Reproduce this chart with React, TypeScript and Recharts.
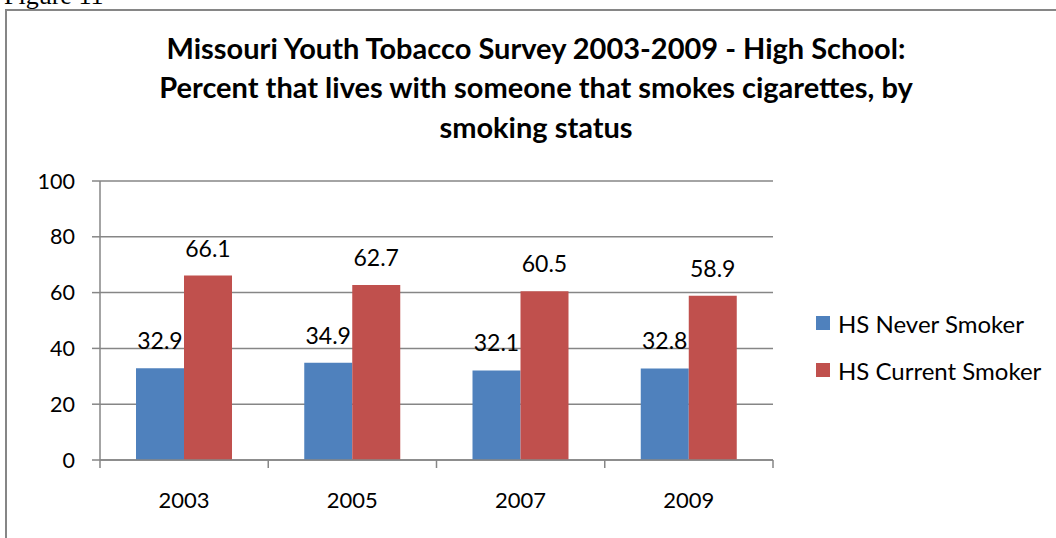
import React from 'react';
import { BarChart, Bar, XAxis, YAxis, CartesianGrid, LabelList, Legend } from 'recharts';

const years = ['2003', '2005', '2007', '2009'];
const neverSmoker = [32.9, 34.9, 32.1, 32.8];
const currentSmoker = [66.1, 62.7, 60.5, 58.9];
const yTicks = [0, 20, 40, 60, 80, 100];
const titleLines = [
  'Missouri Youth Tobacco Survey 2003-2009 - High School:',
  'Percent that lives with someone that smokes cigarettes, by',
  'smoking status',
];
const seriesNames = ['HS Never Smoker', 'HS Current Smoker'];
const colors = ['#4F81BD', '#C0504D'];

const data = years.map((y, i) => ({ year: y, never: neverSmoker[i], current: currentSmoker[i] }));

const FONT = 'Lato, "Noto Sans", sans-serif';
const AXIS = '#868686';

const XTick = (props: any) => {
  const { x, payload, index, visibleTicksCount } = props;
  const half = payload && payload.offset ? payload.offset : 84;
  const axisY = 460;
  return (
    <g>
      <line x1={x - half} y1={axisY} x2={x - half} y2={axisY + 8} stroke={AXIS} strokeWidth={1.5} />
      {index === visibleTicksCount - 1 && (
        <line x1={x + half} y1={axisY} x2={x + half} y2={axisY + 8} stroke={AXIS} strokeWidth={1.5} />
      )}
      <text x={x} y={508} textAnchor="middle" fill="#000" fontSize={22} fontFamily={FONT}>
        {payload.value}
      </text>
    </g>
  );
};

const LegendContent = () => (
  <div style={{ fontFamily: FONT, fontSize: 24, color: '#000' }}>
    {seriesNames.map((n, i) => (
      <div key={n} style={{ display: 'flex', alignItems: 'center', height: 30, marginBottom: i === 0 ? 17 : 0, whiteSpace: 'nowrap' }}>
        <div style={{ width: 14, height: 14, background: colors[i], marginRight: 8, flex: 'none' }} />
        <span>{n}</span>
      </div>
    ))}
  </div>
);

export default function App() {
  return (
    <div style={{ position: 'absolute', left: 0, top: 0, width: 1056, height: 538, overflow: 'hidden', background: '#fff' }}>
      <svg style={{ position: 'absolute', left: 0, top: 0 }} width={200} height={12}>
        <text x={4} y={4} fontFamily='"Liberation Serif", serif' fontSize={26} fill="#000">Figure 11</text>
      </svg>
      <div style={{ position: 'absolute', left: 5, top: 9, width: 1100, height: 600, borderLeft: `2px solid ${AXIS}`, borderTop: `2px solid ${AXIS}` }} />
      <div style={{ position: 'absolute', left: 0, top: 0 }}>
        <BarChart
          width={1056}
          height={538}
          data={data}
          margin={{ top: 181, right: 283, bottom: 38, left: 0 }}
          barCategoryGap="21.4%"
          barGap={0}
        >
          <text x={536} y={59} textAnchor="middle" fontFamily={FONT} fontWeight="bold" fontSize={29} fill="#000">
            {titleLines[0]}
          </text>
          <text x={536} y={98} textAnchor="middle" fontFamily={FONT} fontWeight="bold" fontSize={29} fill="#000">
            {titleLines[1]}
          </text>
          <text x={536} y={138} textAnchor="middle" fontFamily={FONT} fontWeight="bold" fontSize={29} fill="#000">
            {titleLines[2]}
          </text>
          <CartesianGrid vertical={false} stroke={AXIS} strokeWidth={1.5} />
          <XAxis
            dataKey="year"
            height={40}
            axisLine={{ stroke: AXIS, strokeWidth: 1.5 }}
            tickLine={false}
            tick={<XTick />}
            interval={0}
          />
          <YAxis
            width={100}
            domain={[0, 100]}
            ticks={yTicks}
            interval={0}
            axisLine={{ stroke: AXIS, strokeWidth: 1.5 }}
            tickLine={{ stroke: AXIS, strokeWidth: 1.5 }}
            tickSize={8}
            tickMargin={17}
            tick={{ fill: '#000', fontSize: 21.5, fontFamily: FONT }}
          />
          <Legend
            layout="vertical"
            align="center"
            verticalAlign="middle"
            content={<LegendContent />}
            wrapperStyle={{ left: 816, top: 308, width: 240 }}
          />
          <Bar dataKey="never" name={seriesNames[0]} fill={colors[0]} isAnimationActive={false}>
            <LabelList dataKey="never" position="top" offset={19} fill="#000" fontSize={23} fontFamily={FONT} />
          </Bar>
          <Bar dataKey="current" name={seriesNames[1]} fill={colors[1]} isAnimationActive={false}>
            <LabelList dataKey="current" position="top" offset={19} fill="#000" fontSize={23} fontFamily={FONT} />
          </Bar>
        </BarChart>
      </div>
    </div>
  );
}
